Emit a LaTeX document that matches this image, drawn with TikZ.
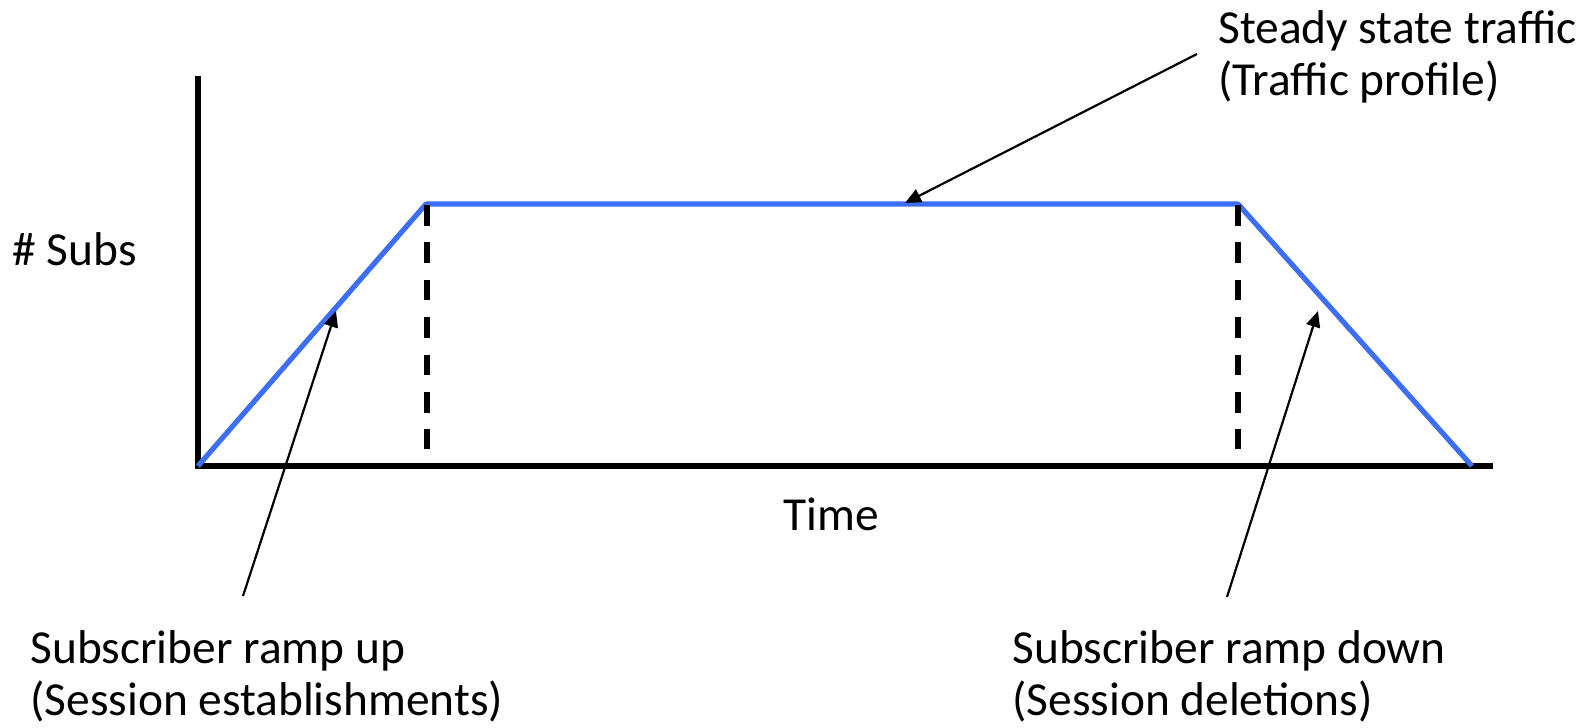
\documentclass[tikz,border=0pt]{standalone}
\usepackage{fontspec}
\setmainfont{Carlito}
\usetikzlibrary{arrows.meta}
\definecolor{rampblue}{RGB}{60,110,250}
\tikzset{
  axis/.style={line width=2.6pt,black},
  profile/.style={line width=2.6pt,rampblue,line join=round},
  marker/.style={line width=2.6pt,black,dash pattern=on 10.3pt off 8.4pt},
  pointer/.style={line width=1.1pt,black,-{Triangle[length=8pt,width=7pt]}},
  lbl/.style={inner sep=0pt,anchor=base west,align=left,font=\fontsize{23.7pt}{26pt}\selectfont}
}
\begin{document}
\begin{tikzpicture}[x=0.5pt,y=-0.5pt]
\useasboundingbox[fill=white] (0,0) rectangle (1596,728);
% axes
\coordinate (ytop) at (198,76);
\coordinate (org) at (198,466);
\coordinate (xend) at (1493,466);
\draw[axis] (ytop) -- (org) -- (xend);
% profile
\coordinate (p1) at (426,204);
\coordinate (p2) at (1238,204);
\coordinate (p3) at (1472,466);
\draw[profile] (org) -- (p1) -- (p2) -- (p3);
% dashed markers
\coordinate (d1t) at (427,205);
\coordinate (d1b) at (427,449);
\coordinate (d2t) at (1238,205);
\coordinate (d2b) at (1238,449);
\draw[marker] (d1t) -- (d1b);
\draw[marker] (d2t) -- (d2b);
% labels (base anchor = last line's baseline)
\node[lbl] (subs) at (12,265) {\# Subs};
\node[lbl] (time) at (783,530) {Time};
\node[lbl] (steady) at (1218,95) {Steady state traffic\\(Traffic profile)};
\node[lbl] (up) at (30,715) {Subscriber ramp up\\(Session establishments)};
\node[lbl] (down) at (1012,715) {Subscriber ramp down\\(Session deletions)};
% pointers
\coordinate (stail) at (1197,54);
\coordinate (shead) at (905,203);
\coordinate (utail) at (243,596);
\coordinate (uhead) at (336,311);
\coordinate (dtail) at (1227,597);
\coordinate (dhead) at (1318,311);
\draw[pointer] (stail) -- (shead);
\draw[pointer] (utail) -- (uhead);
\draw[pointer] (dtail) -- (dhead);
\end{tikzpicture}
\end{document}
